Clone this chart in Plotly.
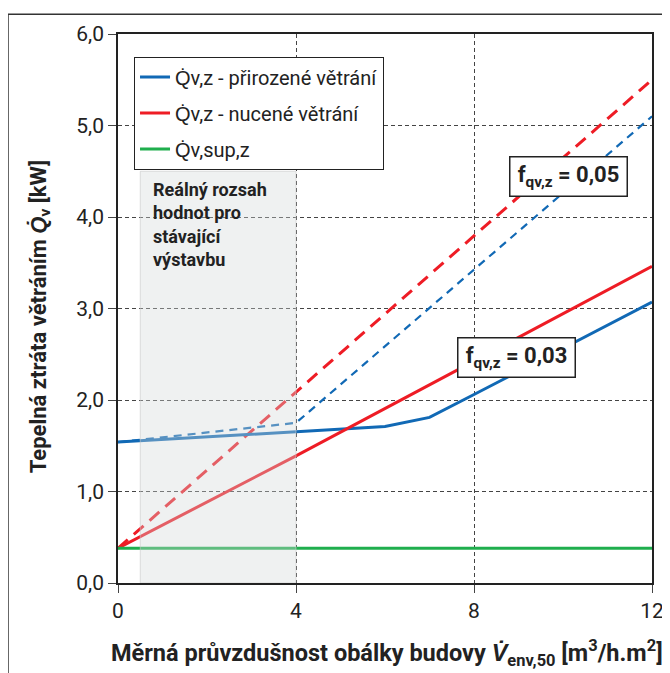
import plotly.graph_objects as go

# ---- data ----
x_pts = [0, 4, 6, 7, 8, 12]
q_nat_003 = [1.54, 1.65, 1.71, 1.81, 2.06, 3.07]     # přirozené větrání, f=0.03
x_lin = [0, 4, 12]
q_nuc_003 = [0.38, 1.39, 3.46]                      # nucené větrání, f=0.03
q_nat_005 = [1.54, 1.75, 5.10]                      # přirozené větrání, f=0.05
q_nuc_005 = [0.38, 2.09, 5.50]                      # nucené větrání, f=0.05
x_sup = [0, 12]
q_sup = [0.38, 0.38]                                # Qv,sup,z

y_tickvals = [0, 1, 2, 3, 4, 5, 6]
y_ticktext = ["0,0", "1,0", "2,0", "3,0", "4,0", "5,0", "6,0"]
x_tickvals = [0, 4, 8, 12]
x_ticktext = ["0", "4", "8", "12"]

range_x = [0.5, 4]      # reálný rozsah
range_ytop = 4.5

BLUE = "#1169b5"
RED = "#ee1c25"
GREEN = "#1fae4d"
FONT = "Roboto, Liberation Sans, sans-serif"
TXT = "#222222"

fig = go.Figure()

fig.add_trace(go.Scatter(x=x_lin, y=q_nuc_005, mode="lines", showlegend=False,
                         line=dict(color=RED, width=3, dash="13px,8px")))
fig.add_trace(go.Scatter(x=x_lin, y=q_nat_005, mode="lines", showlegend=False,
                         line=dict(color=BLUE, width=2.2, dash="8px,6px")))
fig.add_trace(go.Scatter(x=x_pts, y=q_nat_003, mode="lines", name="Q̇v,z - přirozené větrání",
                         legendgroup="a", legendrank=1,
                         line=dict(color=BLUE, width=3)))
fig.add_trace(go.Scatter(x=x_lin, y=q_nuc_003, mode="lines", name="Q̇v,z - nucené větrání",
                         legendgroup="b", legendrank=2,
                         line=dict(color=RED, width=3)))
fig.add_trace(go.Scatter(x=x_sup, y=q_sup, mode="lines", name="Q̇v,sup,z",
                         legendgroup="c", legendrank=3,
                         line=dict(color=GREEN, width=3)))

# shaded range (semi-transparent, above the lines)
fig.add_shape(type="rect", xref="x", yref="y", x0=range_x[0], x1=range_x[1],
              y0=0, y1=range_ytop, layer="above",
              fillcolor="rgba(212,216,216,0.36)", line=dict(color="rgba(200,200,200,0.6)", width=1))

# outer frame
fig.add_shape(type="rect", xref="paper", yref="paper", x0=-0.206, x1=1.026,
              y0=-0.2, y1=1.036, line=dict(color="#333333", width=1.5), layer="below")

fig.add_annotation(xref="x", yref="y", x=0.74, y=4.44, xanchor="left", yanchor="top",
                   align="left", showarrow=False,
                   text="<b>Reálný rozsah<br>hodnot pro<br>stávající<br>výstavbu</b>",
                   font=dict(family=FONT, size=18, color=TXT))

for xx, yy, val in [(10.12, 4.44, "0,05"), (8.96, 2.47, "0,03")]:
    fig.add_annotation(xref="x", yref="y", x=xx, y=yy, showarrow=False,
                       text="<b>f<sub>qv,z</sub> = " + val + "</b>",
                       font=dict(family=FONT, size=22, color=TXT),
                       bgcolor="white", bordercolor=TXT, borderwidth=1.5,
                       width=114, height=36, borderpad=1)

# axis titles
fig.add_annotation(xref="paper", yref="paper", x=0.504, y=-0.1275, showarrow=False,
                   xanchor="center", yanchor="middle",
                   text="<b>Měrná průvzdušnost obálky budovy <i>V̇</i><sub>env,50</sub> [m<sup>3</sup>/h.m<sup>2</sup>]</b>",
                   font=dict(family=FONT, size=23.5, color=TXT))
fig.add_annotation(xref="paper", yref="paper", x=-0.146, y=0.484, showarrow=False,
                   xanchor="center", yanchor="middle", textangle=-90,
                   text="<b>Tepelná ztráta větráním <i>Q̇</i><sub>v</sub> [kW]</b>",
                   font=dict(family=FONT, size=22, color=TXT))

fig.update_xaxes(range=[0, 12], tickvals=x_tickvals, ticktext=x_ticktext,
                 showgrid=True, gridcolor="#444444", griddash="4px,3px", gridwidth=1,
                 showline=True, mirror=True, linecolor=TXT, linewidth=1.5,
                 ticks="outside", ticklen=8, tickcolor="#444444",
                 tickfont=dict(family=FONT, size=21, color=TXT),
                 zeroline=False)
fig.update_yaxes(range=[0, 6], tickvals=y_tickvals, ticktext=y_ticktext,
                 showgrid=True, gridcolor="#444444", griddash="4px,3px", gridwidth=1,
                 showline=True, mirror=True, linecolor=TXT, linewidth=1.5,
                 ticks="outside", ticklen=8, tickcolor="#444444",
                 tickfont=dict(family=FONT, size=21, color=TXT),
                 zeroline=False)

fig.update_layout(
    width=670, height=673,
    margin=dict(l=110, r=26, t=26, b=98),
    plot_bgcolor="white", paper_bgcolor="white",
    legend=dict(x=0.03, y=0.959, xanchor="left", yanchor="top",
                bgcolor="white", bordercolor=TXT, borderwidth=1,
                font=dict(family=FONT, size=20, color=TXT),
                tracegroupgap=7, itemwidth=30),
)

fig.write_html("out.html")
